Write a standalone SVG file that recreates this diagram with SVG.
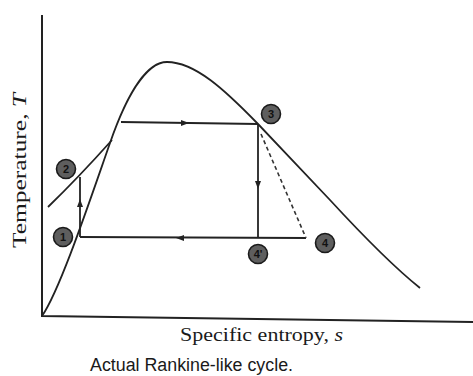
<svg xmlns="http://www.w3.org/2000/svg" width="473" height="376" viewBox="0 0 473 376">
<style>
.ax{stroke:#222;stroke-width:2;fill:none}
.ln{stroke:#222;stroke-width:1.8;fill:none}
.dash{stroke:#333;stroke-width:1.6;fill:none;stroke-dasharray:4 3}
.pt circle{fill:#5e5e5e;stroke:#1a1a1a;stroke-width:1.6}
.pt text{font-family:"Liberation Sans",Arial,sans-serif;font-size:11px;font-weight:bold;fill:#111;text-anchor:middle}
.lbl{font-family:"Liberation Serif","Times New Roman",serif;fill:#1a1a1a}
.cap{font-family:"Liberation Sans",Arial,sans-serif;fill:#1a1a1a}
.ar{fill:#222}
</style>
<rect width="473" height="376" fill="#fff"/>
<g id="axes">
<path class="ax" d="M42,15 L42,316 L473,322"/>
</g>
<g id="dome">
<path class="ln" d="M42,316 C60,290 90,200 110,143 C125,100 145,62 167,62 C195,62 225,90 258,124 L330,200 C365,238 395,268 420,288"/>
</g>
<g id="connectors">
<path class="ln" d="M121,122 L258,124"/>
<path class="ln" d="M258,124 L258,238"/>
<path class="ln" d="M306,238 L80,237"/>
<path class="ln" d="M80,237 L80,177"/>
<path class="ln" d="M48,207 Q78,178 112,140"/>
<path class="dash" d="M261,134 L306,238"/>
<path class="ar" d="M189,123 L181,120 L181,126 Z"/>
<path class="ar" d="M258,189 L255,181 L261,181 Z"/>
<path class="ar" d="M176,238 L184,235 L184,241 Z"/>
<path class="ar" d="M80,199 L77,207 L83,207 Z"/>
</g>
<g id="n1" class="pt"><circle cx="63" cy="237" r="9.5"/><text x="63" y="241">1</text></g>
<g id="n2" class="pt"><circle cx="66" cy="169" r="9.5"/><text x="66" y="173">2</text></g>
<g id="n3" class="pt"><circle cx="271" cy="114" r="9.5"/><text x="271" y="118">3</text></g>
<g id="n4" class="pt"><circle cx="325" cy="243" r="9.5"/><text x="325" y="247">4</text></g>
<g id="n4s" class="pt"><circle cx="258" cy="254" r="9.5"/><text x="258" y="258">4'</text></g>
<text class="lbl" font-size="18" transform="translate(26,248) rotate(-90)" textLength="155" lengthAdjust="spacingAndGlyphs">Temperature, <tspan font-style="italic">T</tspan></text>
<text class="lbl" x="180" y="341" font-size="18" textLength="163" lengthAdjust="spacingAndGlyphs">Specific entropy, <tspan font-style="italic">s</tspan></text>
<text class="cap" x="90" y="371" font-size="18" textLength="203" lengthAdjust="spacingAndGlyphs">Actual Rankine-like cycle.</text>
</svg>
